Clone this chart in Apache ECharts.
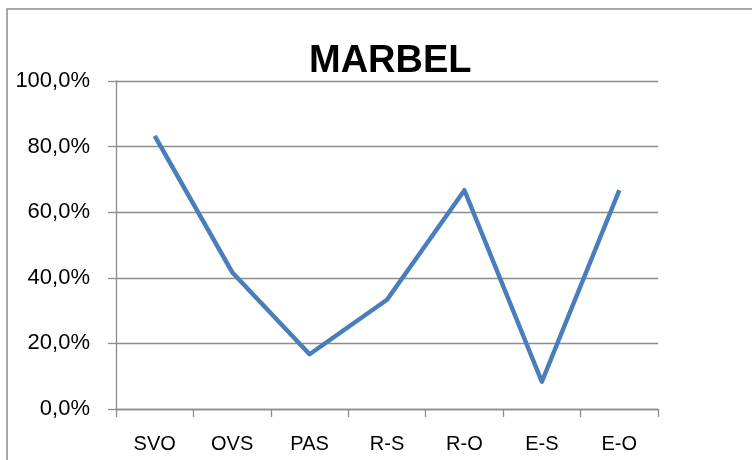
<!DOCTYPE html>
<html>
<head>
<meta charset="utf-8">
<script src="https://cdn.jsdelivr.net/npm/echarts@6/dist/echarts.min.js"></script>
<style>html,body{margin:0;padding:0;background:#fff;}#c{width:752px;height:460px;}</style>
</head>
<body>
<div id="c"></div>
<script>
var categories = ['SVO', 'OVS', 'PAS', 'R-S', 'R-O', 'E-S', 'E-O'];
var values = [0.833, 0.417, 0.167, 0.333, 0.667, 0.083, 0.667];
var titleText = 'MARBEL';

var chart = echarts.init(document.getElementById('c'), null, {renderer: 'canvas'});
var gray = '#8c8c8c';
chart.setOption({
  animation: false,
  backgroundColor: '#fff',
  graphic: [{
    type: 'rect', shape: {x: 7, y: 9, width: 800, height: 500},
    style: {fill: 'none', stroke: gray, lineWidth: 1.5}, silent: true
  }],
  title: {
    text: titleText, left: 304, top: 38,
    textStyle: {fontFamily: 'Liberation Sans', fontWeight: 'bold', fontSize: 38, color: '#000'}
  },
  grid: {left: 116, right: 94, top: 81, bottom: 51},
  xAxis: {
    type: 'category', data: categories, boundaryGap: true,
    axisLine: {lineStyle: {color: gray, width: 1.3}},
    axisTick: {show: true, length: 8, lineStyle: {color: gray, width: 1.3}},
    axisLabel: {color: '#000', fontFamily: 'Liberation Sans', fontSize: 20, margin: 25}
  },
  yAxis: {
    type: 'value', min: 0, max: 1, interval: 0.2,
    axisLine: {show: true, lineStyle: {color: gray, width: 1.3}},
    axisTick: {show: true, length: 8, lineStyle: {color: gray, width: 1.3}},
    splitLine: {lineStyle: {color: gray, width: 1.3}},
    axisLabel: {color: '#000', fontFamily: 'Liberation Sans', fontSize: 22, margin: 26,
      formatter: function (v) { return (v * 100).toFixed(1).replace('.', ',') + '%'; }}
  },
  series: [{
    type: 'line', data: values, symbol: 'none',
    lineStyle: {color: '#4a7ebb', width: 4.5, join: 'round'}
  }]
});
</script>
</body>
</html>
